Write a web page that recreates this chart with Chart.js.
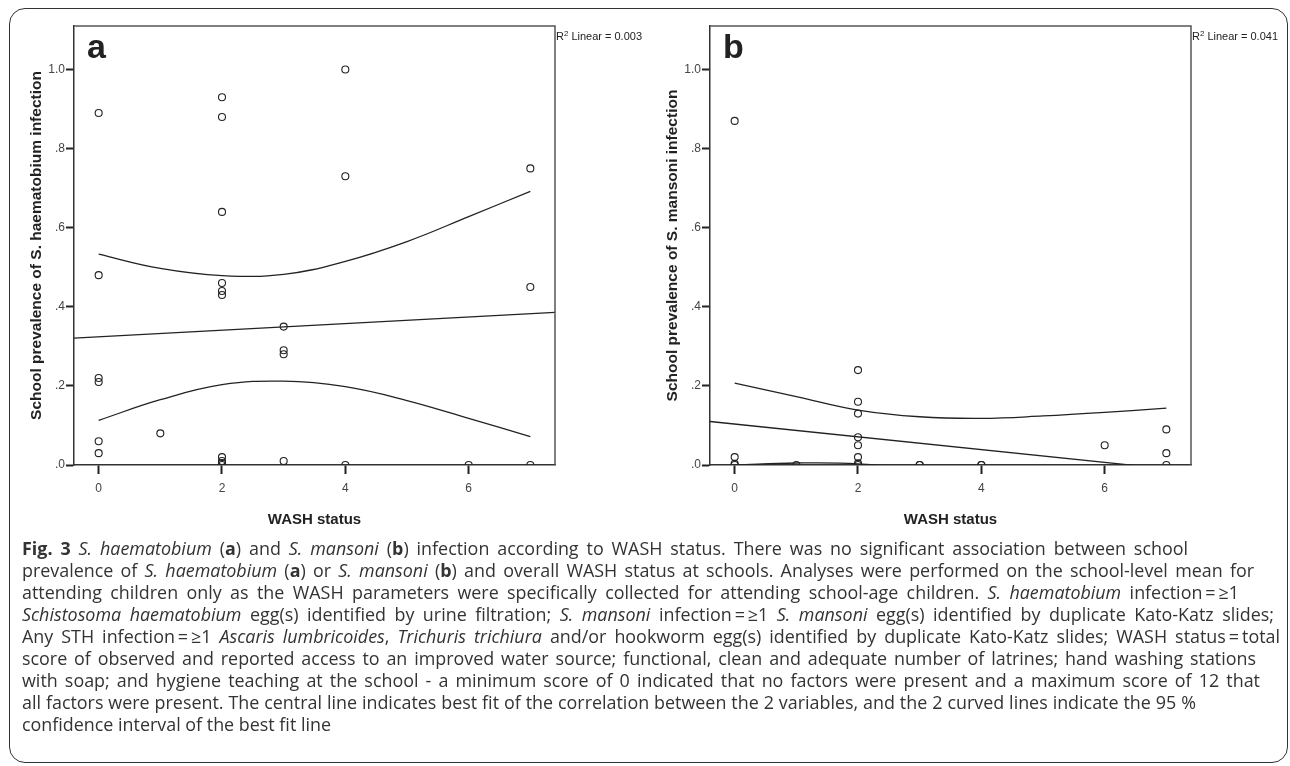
<!DOCTYPE html>
<html lang="en">
<head>
<meta charset="UTF-8">
<title>Fig. 3 WASH status</title>
<script src="https://cdn.jsdelivr.net/npm/chart.js"></script>
<style>
  body { margin: 0; background: #fff; width: 1290px; height: 766px; overflow: hidden; position: relative; }
  .frame { position: absolute; left: 9px; top: 8px; width: 1279px; height: 755px; border: 1.5px solid #333; border-radius: 16px; box-sizing: border-box; }
  .panel { position: absolute; top: 0; height: 540px; }
  #panelA { left: 0; width: 660px; }
  #panelB { left: 636px; width: 645px; }
  .caption { position: absolute; left: 22px; top: 537px; font-family: 'Open Sans', sans-serif; font-size: 17.9px; line-height: 22px; color: #333; white-space: nowrap; }
  .caption div { text-align: justify; text-align-last: justify; }
  .caption div.last { text-align: left; text-align-last: left; }
</style>
</head>
<body>
<div class="frame"></div>
<div class="panel" id="panelA"><canvas id="chartA"></canvas></div>
<div class="panel" id="panelB"><canvas id="chartB"></canvas></div>
<div class="caption">
  <div style="width:1166px"><b>Fig. 3</b> <i>S. haematobium</i> (<b>a</b>) and <i>S. mansoni</i> (<b>b</b>) infection according to WASH status. There was no significant association between school</div>
  <div style="width:1232px">prevalence of <i>S. haematobium</i> (<b>a</b>) or <i>S. mansoni</i> (<b>b</b>) and overall WASH status at schools. Analyses were performed on the school-level mean for</div>
  <div style="width:1217px">attending children only as the WASH parameters were specifically collected for attending school-age children. <i>S. haematobium</i> infection&thinsp;=&thinsp;≥1</div>
  <div style="width:1252px"><i>Schistosoma haematobium</i> egg(s) identified by urine filtration; <i>S. mansoni</i> infection&thinsp;=&thinsp;≥1 <i>S. mansoni</i> egg(s) identified by duplicate Kato-Katz slides;</div>
  <div style="width:1258px">Any STH infection&thinsp;=&thinsp;≥1 <i>Ascaris lumbricoides</i>, <i>Trichuris trichiura</i> and/or hookworm egg(s) identified by duplicate Kato-Katz slides; WASH status&thinsp;=&thinsp;total</div>
  <div style="width:1234px">score of observed and reported access to an improved water source; functional, clean and adequate number of latrines; hand washing stations</div>
  <div style="width:1238px">with soap; and hygiene teaching at the school - a minimum score of 0 indicated that no factors were present and a maximum score of 12 that</div>
  <div style="width:1174px">all factors were present. The central line indicates best fit of the correlation between the 2 variables, and the 2 curved lines indicate the 95 %</div>
  <div class="last">confidence interval of the best fit line</div>
</div>

<script>
// axis ticks
const xTicks = [0, 2, 4, 6];
const yTicks = [0, 0.2, 0.4, 0.6, 0.8, 1.0];
const yTickLabels = ['.0', '.2', '.4', '.6', '.8', '1.0'];

// panel a: S. haematobium
const washA = [0, 0, 0, 0, 0, 0, 1, 2, 2, 2, 2, 2, 2, 2, 2, 2, 2, 3, 3, 3, 3, 4, 4, 4, 6, 7, 7, 7];
const prevA = [0.89, 0.48, 0.22, 0.21, 0.06, 0.03, 0.08, 0.93, 0.88, 0.64, 0.46, 0.44, 0.43, 0.02, 0.01, 0.005, 0.0,
               0.35, 0.29, 0.28, 0.01, 1.00, 0.73, 0.0, 0.0, 0.75, 0.45, 0.0];

// panel b: S. mansoni
const washB = [0, 0, 0, 0, 1, 2, 2, 2, 2, 2, 2, 2, 2, 3, 3, 4, 4, 6, 7, 7, 7];
const prevB = [0.87, 0.02, 0.003, 0.0, 0.0, 0.24, 0.16, 0.13, 0.07, 0.05, 0.02, 0.004, 0.0, 0.0, 0.0, 0.0, 0.0,
               0.05, 0.09, 0.03, 0.0];

// fit line (ends at the plot edges) and 95% CI curves
const fitX = [-0.4, 7.4];
const fitA = [0.321, 0.386];
const fitB = [0.110, -0.016];
const ciX = [0, 1, 2, 3, 4, 5, 6, 7];
const ciUpperA = [0.533, 0.497, 0.479, 0.482, 0.515, 0.565, 0.628, 0.692];
const ciLowerA = [0.113, 0.165, 0.203, 0.212, 0.198, 0.163, 0.118, 0.072];
const ciUpperB = [0.207, 0.173, 0.139, 0.122, 0.118, 0.124, 0.133, 0.144];
const ciLowerB = [0.000, 0.005, 0.003, -0.012, -0.040, -0.070, -0.100, -0.130];

const FONT = "'Liberation Sans', Arial, sans-serif";
Chart.defaults.font.family = FONT;

function pairs(xs, ys) {
    return xs.map((x, i) => ({ x: x, y: ys[i] }));
}

// top/right frame of the plot box, panel letter and R2 note
const panelDecor = {
    id: 'panelDecor',
    afterDraw(chart, args, opts) {
        const ctx = chart.ctx;
        const a = chart.chartArea;
        ctx.save();
        ctx.strokeStyle = '#555';
        ctx.lineWidth = 1.5;
        ctx.beginPath();
        ctx.moveTo(a.left, a.top);
        ctx.lineTo(a.right, a.top);
        ctx.lineTo(a.right, a.bottom);
        ctx.stroke();

        ctx.fillStyle = '#222';
        ctx.textBaseline = 'alphabetic';
        ctx.font = 'bold 34px ' + FONT;
        ctx.fillText(opts.letter, a.left + 13, a.top + 32);

        let x = a.right + 1;
        const y = a.top + 14;
        ctx.font = '11px ' + FONT;
        ctx.fillText('R', x, y);
        x += ctx.measureText('R').width;
        ctx.font = '8px ' + FONT;
        ctx.fillText('2', x, y - 4);
        x += ctx.measureText('2').width + 3;
        ctx.font = '11px ' + FONT;
        ctx.fillText('Linear = ' + opts.r2, x, y);
        ctx.restore();
    }
};

function makeChart(id, xs, ys, fit, up, low, yTitle, letter, r2, padRight) {
    const lineStyle = { showLine: true, pointRadius: 0, borderColor: '#222', borderWidth: 1.3, fill: false };
    return new Chart(document.getElementById(id), {
        type: 'scatter',
        data: {
            datasets: [
                { data: pairs(xs, ys), pointRadius: 3.5, pointBorderWidth: 1.1, borderColor: '#222',
                  backgroundColor: 'rgba(0,0,0,0)', pointStyle: 'circle' },
                Object.assign({ data: pairs(fitX, fit) }, lineStyle),
                Object.assign({ data: pairs(ciX, up), tension: 0.4 }, lineStyle),
                Object.assign({ data: pairs(ciX, low), tension: 0.4 }, lineStyle)
            ]
        },
        options: {
            responsive: true,
            maintainAspectRatio: false,
            animation: false,
            layout: { padding: { top: 26, left: 0, right: padRight, bottom: 0 } },
            plugins: {
                legend: { display: false },
                tooltip: { enabled: false },
                panelDecor: { letter: letter, r2: r2 }
            },
            scales: {
                x: {
                    type: 'linear', min: -0.4, max: 7.4,
                    afterBuildTicks: s => { s.ticks = xTicks.map(v => ({ value: v })); },
                    afterFit: s => { s.height = 75; },
                    ticks: { color: '#444', font: { size: 12 }, padding: 7, autoSkip: false, maxRotation: 0 },
                    grid: { drawOnChartArea: false, drawTicks: true, tickLength: 9, tickWidth: 2, tickColor: '#222' },
                    border: { display: true, color: '#333', width: 1.5 },
                    title: { display: true, text: 'WASH status', color: '#222',
                             font: { size: 15, weight: 'bold' }, padding: { top: 0, bottom: 11 } }
                },
                y: {
                    type: 'linear', min: 0, max: 1.11,
                    afterBuildTicks: s => { s.ticks = yTicks.map(v => ({ value: v })); },
                    afterFit: s => { s.width = 74; },
                    ticks: { color: '#444', font: { size: 12 }, padding: 1, autoSkip: false,
                             callback: (v, i) => yTickLabels[i] },
                    grid: { drawOnChartArea: false, drawTicks: true, tickLength: 8, tickWidth: 2, tickColor: '#222' },
                    border: { display: true, color: '#333', width: 1.5 },
                    title: { display: true, text: yTitle, color: '#222',
                             font: { size: 15.5, weight: 'bold' }, padding: { top: 27, bottom: 0 } }
                }
            }
        },
        plugins: [panelDecor]
    });
}

makeChart('chartA', washA, prevA, fitA, ciUpperA, ciLowerA,
          'School prevalence of S. haematobium infection', 'a', '0.003', 105);
makeChart('chartB', washB, prevB, fitB, ciUpperB, ciLowerB,
          'School prevalence of S. mansoni infection', 'b', '0.041', 90);
</script>
</body>
</html>
